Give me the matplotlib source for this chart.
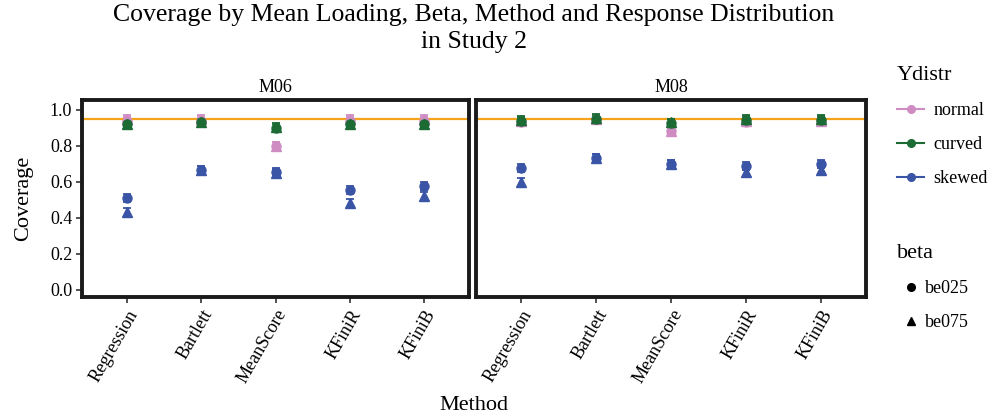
import numpy as np
import matplotlib
matplotlib.use("Agg")
import matplotlib.pyplot as plt
from matplotlib.lines import Line2D

plt.rcParams['font.family'] = ['Liberation Serif', 'DejaVu Serif']

methods = ["Regression", "Bartlett", "MeanScore", "KFiniR", "KFiniB"]
loadings = ["M06", "M08"]
ydistr = ["normal", "curved", "skewed"]
betas = ["be025", "be075"]

# coverage[loading][ydistr][beta] -> values per method
coverage = {
    "M06": {
        "normal": {"be025": [0.94, 0.94, 0.80, 0.94, 0.94],
                   "be075": [0.95, 0.95, 0.80, 0.95, 0.95]},
        "curved": {"be025": [0.92, 0.93, 0.90, 0.92, 0.92],
                   "be075": [0.92, 0.93, 0.905, 0.92, 0.92]},
        "skewed": {"be025": [0.51, 0.665, 0.655, 0.556, 0.578],
                   "be075": [0.435, 0.665, 0.65, 0.48, 0.52]},
    },
    "M08": {
        "normal": {"be025": [0.935, 0.95, 0.885, 0.935, 0.94],
                   "be075": [0.94, 0.95, 0.88, 0.94, 0.94]},
        "curved": {"be025": [0.94, 0.95, 0.925, 0.945, 0.945],
                   "be075": [0.945, 0.955, 0.93, 0.95, 0.95]},
        "skewed": {"be025": [0.676, 0.735, 0.70, 0.69, 0.70],
                   "be075": [0.60, 0.735, 0.70, 0.655, 0.667]},
    },
}
err = 0.022
nominal = 0.95

colors = {"normal": "#CF8CC2", "curved": "#1C6B35", "skewed": "#3A54A6"}
markers = {"be025": "o", "be075": "^"}
msizes = {"be025": 6.5, "be075": 7.5}

fig = plt.figure(figsize=(9.9, 4.2), dpi=100)
axes = [fig.add_axes([82/990, 1-297/420, 387/990, 197/420]),
        fig.add_axes([476/990, 1-297/420, 390/990, 197/420])]

x = np.arange(1, len(methods) + 1)
for ax, ld in zip(axes, loadings):
    ax.axhline(nominal, color="#F5A31A", lw=1.6, zorder=1)
    for yd in ydistr:
        for b in betas:
            ax.errorbar(x, coverage[ld][yd][b], yerr=err, fmt=markers[b],
                        color=colors[yd], ms=msizes[b], capsize=3, elinewidth=1.3,
                        capthick=1.3, zorder=3)
    ax.set_xlim(0.4, 5.6)
    ax.set_ylim(-0.04, 1.055)
    ax.set_xticks(x)
    ax.set_xticklabels(methods, rotation=60, ha="right", rotation_mode="anchor",
                       fontsize=13)
    ax.set_yticks([0, 0.2, 0.4, 0.6, 0.8, 1.0])
    ax.set_yticklabels(["0.0", "0.2", "0.4", "0.6", "0.8", "1.0"], fontsize=13)
    for s in ax.spines.values():
        s.set_linewidth(2.8)
        s.set_color("#1a1a1a")
    ax.tick_params(length=4, width=1.2, color="#333333", pad=3)
    ax.set_title(ld, fontsize=13, pad=6)

axes[1].set_yticklabels([])
axes[1].tick_params(axis="y", length=0)
axes[0].set_ylabel("Coverage", fontsize=16, labelpad=12)
fig.text(474/990, 1 - 405/420, "Method", ha="center", va="center", fontsize=16)
fig.text(474/990, 1 - 15/420, "Coverage by Mean Loading, Beta, Method and Response Distribution",
         ha="center", va="center", fontsize=18.5)
fig.text(474/990, 1 - 42/420, "in Study 2", ha="center", va="center", fontsize=18.5)

h1 = [Line2D([], [], color=colors[yd], marker="o", ms=5.5, lw=1.5) for yd in ydistr]
fig.legend(h1, ydistr, title="Ydistr", loc="upper left",
           bbox_to_anchor=(897/990, 1 - 66/420), frameon=False,
           borderpad=0, borderaxespad=0,
           fontsize=13, title_fontsize=16, labelspacing=0.95,
           handlelength=1.5, handletextpad=0.5, alignment="left")
h2 = [Line2D([], [], color="black", marker=markers[b], ms=5.5, lw=0) for b in betas]
fig.legend(h2, betas, title="beta", loc="upper left",
           bbox_to_anchor=(897/990, 1 - 244/420), frameon=False,
           borderpad=0, borderaxespad=0,
           fontsize=13, title_fontsize=16, labelspacing=0.95,
           handlelength=1.5, handletextpad=0.05, alignment="left")

fig.savefig("out.png", dpi=100)
